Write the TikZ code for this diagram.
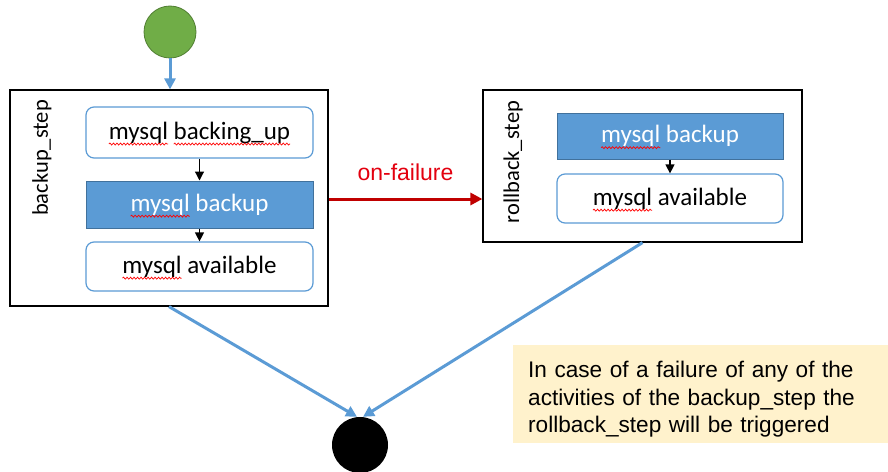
\documentclass[tikz,border=0pt]{standalone}
\usepackage{fontspec}
\setmainfont{Carlito}
\newfontfamily\arialf{Liberation Sans}
\usetikzlibrary{arrows.meta,positioning,decorations.pathmorphing}
\definecolor{mblue}{HTML}{5B9BD5}
\definecolor{mbluedark}{HTML}{41719C}
\definecolor{mgreen}{HTML}{70AD47}
\definecolor{mgreendark}{HTML}{507E32}
\definecolor{mred}{HTML}{C00000}
\definecolor{mtext}{HTML}{E3000F}
\definecolor{mnote}{HTML}{FFF2CC}
\newcommand\boxfont{\fontsize{25}{28}\selectfont}
% measure text widths before the picture (fonts are not active inside it)
\newcommand\mw[2]{\sbox0{\normalfont\boxfont #2}\expandafter\xdef\csname sqw#1\endcsname{\the\wd0}}
\AtBeginDocument{%
  \mw{Z}{}\mw{M}{mysql}\mw{MS}{mysql }\mw{BU}{backing\_up}%
  \mw{F1}{mysql backing\_up}\mw{F2}{mysql backup}\mw{F3}{mysql available}}
\newdimen\sqA
% #1 node, #2 full text key, #3 prefix key, #4 word key
\newcommand\squig[4]{%
  \global\sqA=\dimexpr\csname sqw#3\endcsname-\csname sqw#2\endcsname/2\relax
  \xdef\sqdo{\noexpand\draw[squigline] ([xshift=\the\sqA, yshift=-5pt]#1.base) -- ++(\csname sqw#4\endcsname,0pt);}%
  \sqdo}
\tikzset{
  stepframe/.style={draw=black, line width=1.2pt, fill=white, inner sep=0pt},
  actbox/.style={draw=mblue, line width=1.2pt, rounded corners=8pt, fill=white,
     minimum width=227pt, inner sep=0pt, font=\boxfont},
  actfill/.style={draw=mbluedark, line width=1pt, fill=mblue, text=white,
     minimum width=227pt, inner sep=0pt, font=\boxfont},
  steplabel/.style={rotate=90, font=\fontsize{22.5}{24}\selectfont, inner sep=0pt},
  flow/.style={draw=mblue, line width=3pt, -{Triangle[length=11pt,width=11pt]}},
  inner/.style={draw=black, line width=1.2pt, -{Triangle[length=9pt,width=9pt]}},
  squigline/.style={draw=red, line width=0.7pt, decorate,
     decoration={snake, amplitude=1pt, segment length=3.5pt}},
}
\begin{document}
\begin{tikzpicture}[x=1pt,y=-1pt]
\useasboundingbox (0,0) rectangle (888,471);
% start
\node[circle, fill=mgreen, draw=mgreendark, line width=0.8pt, minimum size=52pt, inner sep=0pt] (start) at (170,32) {};
% backup step
\node[stepframe, minimum width=318pt, minimum height=216pt] (backup) at (169,198) {};
\node[steplabel] (backuplbl) at (42,158) {backup\_step};
\node[actbox, minimum height=51pt] (b1) at (199.5,132.5) {mysql backing\_up};
\node[actfill, minimum height=47pt] (b2) at (199.5,204.5) {mysql backup};
\node[actbox, minimum height=49pt] (b3) at (199.5,266.5) {mysql available};
% rollback step
\node[stepframe, minimum width=319pt, minimum height=152pt] (rollback) at (642.5,166) {};
\node[steplabel] (rollbacklbl) at (513,162) {rollback\_step};
\node[actfill, minimum width=226pt, minimum height=46pt] (r1) at (670,136) {mysql backup};
\node[actbox, minimum width=226pt, minimum height=49pt] (r2) at (670,198.5) {mysql available};
% spelling squiggles
\squig{b1}{F1}{Z}{M}
\squig{b1}{F1}{MS}{BU}
\squig{b2}{F2}{Z}{M}
\squig{b3}{F3}{Z}{M}
\squig{r1}{F2}{Z}{M}
\squig{r2}{F3}{Z}{M}
% end
\node[circle, fill=black, minimum size=56pt, inner sep=0pt] (end) at (360,445) {};
% note
\node[fill=mnote, anchor=north west, minimum width=375pt, minimum height=98pt, inner sep=0pt] (note) at (513,345) {};
\node[anchor=west, text width=350pt, inner sep=0pt, align=left,
      font=\arialf\fontsize{22.6}{27.5}\selectfont] (notetext) at ([xshift=15pt, yshift=-5pt]note.west)
  {In case of a failure of any of the\\activities of the backup\_step the\\rollback\_step will be triggered};
% connectors
\draw[flow] (start) -- (start.south |- backup.north);
\draw[inner] (b1) -- (b2);
\draw[inner] (b2) -- (b3);
\draw[inner] (r1) -- (r2);
\draw[draw=mred, line width=3pt, -{Triangle[length=12pt,width=12pt]}]
  ([yshift=-1pt]backup.east) -- ([yshift=-1pt]backup.east -| rollback.west)
  node[midway, above=13pt, text=mtext, font=\arialf\fontsize{23}{25}\selectfont] (onfail) {on-failure};
\draw[flow] (backup.south) -- ([xshift=-3pt]end.north);
\draw[flow] (rollback.south) -- ([xshift=3pt]end.north);
\end{tikzpicture}
\end{document}
